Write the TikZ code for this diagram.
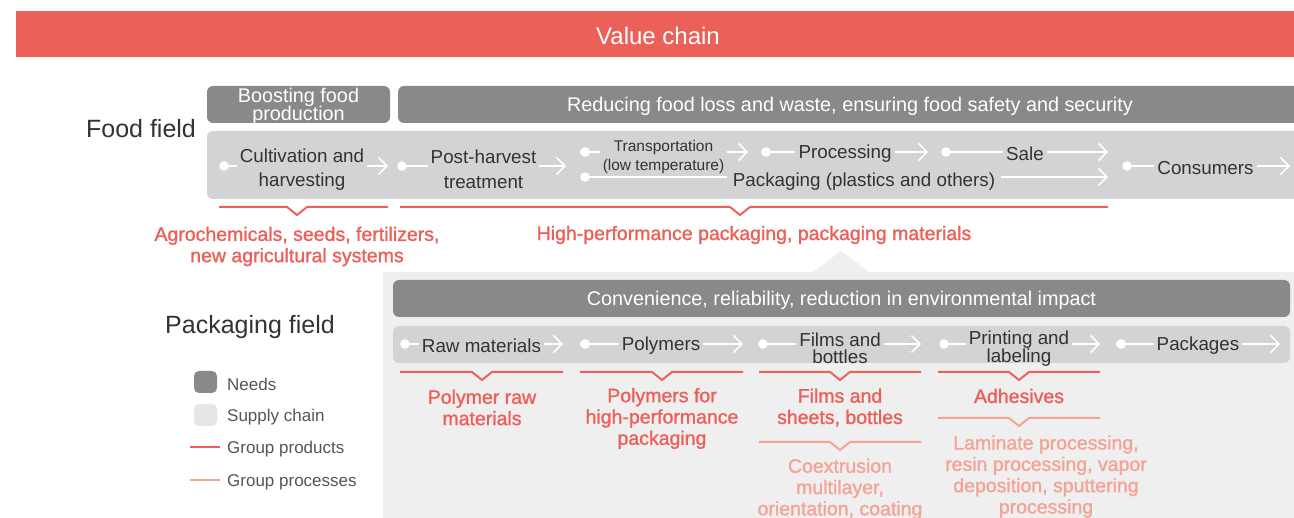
\documentclass[tikz,border=0pt]{standalone}
\usepackage{fontspec}
\setmainfont{Liberation Sans}
\newfontfamily\medfont[FakeBold=1.3]{Liberation Sans}
\usetikzlibrary{arrows.meta}
\definecolor{vred}{HTML}{EB6159}
\definecolor{salm}{HTML}{F4A395}
\definecolor{needgray}{HTML}{898989}
\definecolor{supgray}{HTML}{D3D3D3}
\definecolor{pkgbg}{HTML}{EFEFEF}
\definecolor{legsup}{HTML}{E6E6E6}
\definecolor{txt}{HTML}{333333}
\definecolor{legtxt}{HTML}{555555}
\newcommand\vbrk[5]{\draw[#1] (#2,#5) -- ({#4-10},#5) -- (#4,{#5+8}) -- ({#4+10},#5) -- (#3,#5);}
\begin{document}
\begin{tikzpicture}[x=1pt,y=-1pt,
  needsbar/.style={fill=needgray, rounded corners=6pt},
  needs/.style={text=white, align=center, inner sep=0pt, yshift=-2pt,
    font=\fontsize{19.8}{18.5}\selectfont},
  supply/.style={fill=supgray, rounded corners=6pt},
  stepbox/.style={inner xsep=3pt, inner ysep=0pt, yshift=-2pt, text=txt, align=center, font=\fontsize{18.8}{24.5}\selectfont},
  stept/.style={stepbox, yshift=-1pt, font=\fontsize{18.8}{17}\selectfont},
  small/.style={stepbox, yshift=-1pt, font=\fontsize{15.5}{19}\selectfont},
  field/.style={inner sep=0pt, text=txt, font=\fontsize{25}{28}\selectfont},
  prod/.style={inner sep=0pt, yshift=-2pt, text=vred, align=center, font=\medfont\fontsize{19.5}{21.3}\selectfont},
  proc/.style={prod, text=salm},
  prodline/.style={draw=vred, line width=2pt},
  procline/.style={draw=salm, line width=2pt},
  link/.style={draw=white, line width=1.8pt},
  chev/.style={draw=white, line width=1.5pt, -{Straight Barb[length=8.5pt,width=17pt,line width=1.5pt]}},
  dotc/.style={fill=white},
  legt/.style={inner sep=0pt, anchor=west, yshift=-1.5pt, text=legtxt, font=\fontsize{17}{20}\selectfont},
]
\useasboundingbox (0,0) rectangle (1294,518);
\fill[white] (0,0) rectangle (1294,518);

% Banner
\node[fill=vred, minimum width=1284pt, minimum height=46pt, inner sep=0pt] (banner) at (658,34) {};
\node[inner sep=0pt, text=white, font=\fontsize{24}{28}\selectfont, yshift=-1.5pt] (bantxt) at (banner.center) {Value chain};

% Food field
\node[field] (foodlbl) at (141,129) {Food field};
\path[needsbar] (207,86) rectangle (390,123);
\node[needs] (boost) at (298.5,104.5) {Boosting food\\production};
\path[needsbar] (398,86) rectangle (1310,123);
\node[needs] (reduce) at (850,104.5) {Reducing food loss and waste, ensuring food safety and security};
\path[supply] (207,131) rectangle (1310,199);

\node[stepbox] (cult) at (302,167.5) {Cultivation and\\harvesting};
\node[stepbox] (post) at (483.5,167.5) {Post-harvest\\treatment};
\node[small] (trans) at (663.5,153.5) {Transportation\\(low temperature)};
\node[stepbox] (proc) at (845,152) {Processing};
\node[stepbox] (sale) at (1025,152) {Sale};
\node[stepbox, inner xsep=6pt, yshift=-1pt] (pack) at (864,179) {Packaging (plastics and others)};
\node[stepbox] (cons) at (1205.5,166) {Consumers};

\coordinate (d1) at (224,166);  \coordinate (a1) at (388,166);
\coordinate (d2) at (402,166);  \coordinate (a2) at (566,166);
\coordinate (d3) at (585,152);  \coordinate (a3) at (748,152);
\coordinate (d4) at (766,152);  \coordinate (a4) at (928,152);
\coordinate (d5) at (946,152);  \coordinate (a5) at (1108,152);
\coordinate (d6) at (585,177);  \coordinate (a6) at (1108,177);
\coordinate (d7) at (1127,166); \coordinate (a7) at (1290,166);

\draw[link] (d1) -- (d1 -| cult.west);  \draw[chev] (a1 -| cult.east) -- (a1);
\draw[link] (d2) -- (d2 -| post.west);  \draw[chev] (a2 -| post.east) -- (a2);
\draw[link] (d3) -- (d3 -| trans.west);  \draw[chev] (a3 -| trans.east) -- (a3);
\draw[link] (d4) -- (d4 -| proc.west);  \draw[chev] (a4 -| proc.east) -- (a4);
\draw[link] (d5) -- (d5 -| sale.west);  \draw[chev] (a5 -| sale.east) -- (a5);
\draw[link] (d6) -- (d6 -| pack.west);  \draw[chev] (a6 -| pack.east) -- (a6);
\draw[link] (d7) -- (d7 -| cons.west);  \draw[chev] (a7 -| cons.east) -- (a7);
\foreach \d in {d1,d2,d3,d4,d5,d6,d7} \fill[dotc] (\d) circle (4.8pt);

\vbrk{prodline}{219}{388}{297}{207}
\vbrk{prodline}{400}{1108}{740}{207}
\node[prod] (agro) at (297,244.5) {Agrochemicals, seeds, fertilizers,\\new agricultural systems};
\node[prod] (hpp) at (754,233) {High-performance packaging, packaging materials};

% Packaging field background
\fill[pkgbg] (383,272) -- (813,272) -- (841,251) -- (869,272) -- (1300,272) -- (1300,520) -- (383,520) -- cycle;
\node[field, yshift=-2pt] (pkglbl) at (250,325) {Packaging field};
\path[needsbar] (393,280) rectangle (1290,317);
\node[needs] (conv) at (841.5,298.5) {Convenience, reliability, reduction in environmental impact};
\path[supply] (393,326) rectangle (1290,363);

\node[stepbox] (raw) at (481.5,344) {Raw materials};
\node[stepbox] (poly) at (661,344) {Polymers};
\node[stept] (film) at (840,345.5) {Films and\\bottles};
\node[stept] (print) at (1019,345.5) {Printing and\\labeling};
\node[stepbox] (pkgs) at (1198,344) {Packages};

\coordinate (e1) at (405,344);  \coordinate (b1) at (563,344);
\coordinate (e2) at (585,344);  \coordinate (b2) at (743,344);
\coordinate (e3) at (763,344);  \coordinate (b3) at (921,344);
\coordinate (e4) at (944,344);  \coordinate (b4) at (1100,344);
\coordinate (e5) at (1121,344); \coordinate (b5) at (1280,344);

\draw[link] (e1) -- (e1 -| raw.west);  \draw[chev] (b1 -| raw.east) -- (b1);
\draw[link] (e2) -- (e2 -| poly.west); \draw[chev] (b2 -| poly.east) -- (b2);
\draw[link] (e3) -- (e3 -| film.west); \draw[chev] (b3 -| film.east) -- (b3);
\draw[link] (e4) -- (e4 -| print.west); \draw[chev] (b4 -| print.east) -- (b4);
\draw[link] (e5) -- (e5 -| pkgs.west); \draw[chev] (b5 -| pkgs.east) -- (b5);
\foreach \d in {e1,e2,e3,e4,e5} \fill[dotc] (\d) circle (4.8pt);

\vbrk{prodline}{400}{563}{482}{372}
\vbrk{prodline}{580}{743}{662}{372}
\vbrk{prodline}{759}{921}{840}{372}
\vbrk{prodline}{938}{1100}{1019}{372}
\node[prod] (pr1) at (482,405.5) {Polymer raw\\materials};
\node[prod] (pr2) at (662,416.5) {Polymers for\\high-performance\\packaging};
\node[prod] (pr3) at (840,405.5) {Films and\\sheets, bottles};
\node[prod, yshift=1pt] (pr4) at (1019,395) {Adhesives};

\vbrk{procline}{759}{921}{840}{442}
\vbrk{procline}{938}{1100}{1019}{418}
\node[proc] (pc1) at (840,487) {Coextrusion\\multilayer,\\orientation, coating};
\node[proc, yshift=-0.5pt] (pc2) at (1046,474) {Laminate processing,\\resin processing, vapor\\deposition, sputtering\\processing};

% Legend
\node[fill=needgray, rounded corners=5pt, minimum width=23pt, minimum height=22pt, inner sep=0pt] (lgneed) at (205.5,382) {};
\node[legt] (lgneedt) at (227,383) {Needs};
\node[fill=legsup, rounded corners=5pt, minimum width=23pt, minimum height=22pt, inner sep=0pt] (lgsup) at (205.5,415) {};
\node[legt] (lgsupt) at (227,416) {Supply chain};
\coordinate (lp1) at (190,447); \coordinate (lp2) at (220,447);
\draw[prodline] (lp1) -- (lp2);
\node[legt] (lgprod) at (227,448) {Group products};
\coordinate (lq1) at (190,480); \coordinate (lq2) at (220,480);
\draw[procline] (lq1) -- (lq2);
\node[legt] (lgproc) at (227,481) {Group processes};
\end{tikzpicture}
\end{document}
